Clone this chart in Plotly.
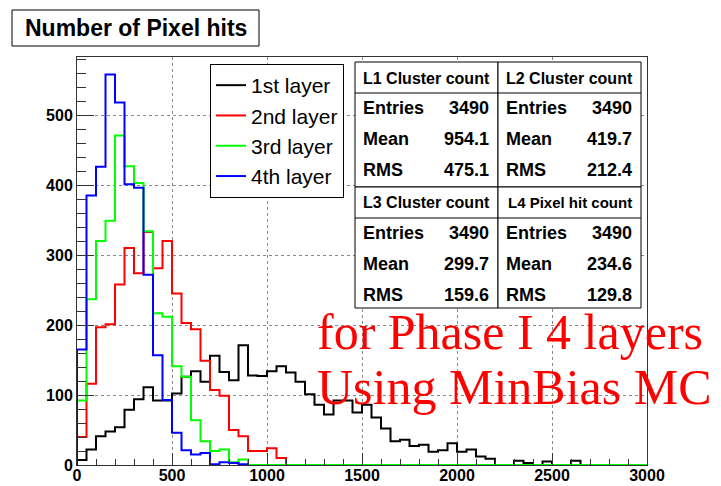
import plotly.graph_objs as go

# pixel hits per event, 50-wide bins from 0 to 3000
bin_width = 50
x_max = 3000

layer1 = [7, 22, 41, 48, 54, 79, 94, 111, 92, 92,
          102, 126, 134, 119, 156, 133, 121, 171, 128, 127,
          134, 141, 132, 119, 101, 86, 72, 92, 92, 75,
          86, 68, 52, 34, 36, 27, 29, 19, 21, 31,
          19, 22, 12, 9, 0, 0, 6, 3, 0, 5,
          0, 0, 6, 0, 0, 0, 0, 0, 0, 0]
layer2 = [40, 116, 197, 201, 258, 310, 274, 333, 281, 320,
          245, 203, 194, 149, 107, 99, 50, 41, 20, 20,
          24, 10] + [0] * 38
layer3 = [92, 237, 320, 349, 471, 427, 403, 334, 217, 212,
          141, 126, 64, 34, 20, 22, 4, 8] + [0] * 42
layer4 = [165, 385, 426, 558, 518, 401, 396, 272, 157, 93,
          46, 21, 15, 17, 1, 4, 3, 1]

layer_names = ['1st layer', '2nd layer', '3rd layer', '4th layer']
layer_colors = ['#000000', '#ff0000', '#00ff00', '#0000ff']

# stats boxes
box_titles = ['L1 Cluster count', 'L2 Cluster count', 'L3 Cluster count', 'L4 Pixel hit count']
entries = ['3490', '3490', '3490', '3490']
means = ['954.1', '419.7', '299.7', '234.6']
rms = ['475.1', '212.4', '159.6', '129.8']

# geometry: the page puts the figure 8px in from the window corner,
# so all target pixel positions are shifted back by OFF
W, H = 721, 486
OFF = 8
PW, PH = 570, 408           # plot area size
L, T = 77 - OFF, 57 - OFF   # plot area origin inside the figure
R, B = W - L - PW, H - T - PH


def px(x):
    return (x - OFF - L) / PW


def py(y):
    return (T + PH - (y - OFF)) / PH


def hist_trace(counts, name, color):
    edges = [i * bin_width for i in range(len(counts) + 1)]
    xs = [0] + edges
    ys = [0] + counts + [0 if len(counts) * bin_width < x_max else counts[-1]]
    return go.Scatter(x=xs, y=ys, mode='lines', name=name, legendgroup=name,
                      line=dict(color=color, width=2, shape='hv'))


data = [hist_trace(c, n, col) for c, n, col in
        zip([layer1, layer2, layer3, layer4], layer_names, layer_colors)]

fig = go.Figure(data=data)

sans = 'Liberation Sans'
shapes = []
annotations = []

# title box
shapes.append(dict(type='rect', xref='paper', yref='paper', x0=px(12), x1=px(259),
                   y0=py(46), y1=py(10), line=dict(color='black', width=1),
                   fillcolor='white'))
annotations.append(dict(text='<b>Number of Pixel hits</b>', xref='paper', yref='paper',
                        x=px(136), y=py(28), showarrow=False, xanchor='center',
                        yanchor='middle', font=dict(family=sans, size=23, color='black')))

# stats boxes, 2x2
box_x = [(355, 498), (498, 641), (355, 498), (498, 641)]
box_y = [(62, 187), (62, 187), (187, 308), (187, 308)]
for i in range(4):
    x0, x1 = box_x[i]
    y0, y1 = box_y[i]
    shapes.append(dict(type='rect', xref='paper', yref='paper', x0=px(x0), x1=px(x1),
                       y0=py(y1), y1=py(y0), line=dict(color='black', width=1),
                       fillcolor='white'))
    shapes.append(dict(type='line', xref='paper', yref='paper', x0=px(x0), x1=px(x1),
                       y0=py(y0 + 31), y1=py(y0 + 31), line=dict(color='black', width=1)))
    annotations.append(dict(text='<b>%s</b>' % box_titles[i], xref='paper', yref='paper',
                            x=px((x0 + x1) / 2), y=py(y0 + 16), showarrow=False,
                            xanchor='center', yanchor='middle',
                            font=dict(family=sans, size=16 if i < 3 else 15, color='black')))
    rows = [('Entries', entries[i]), ('Mean', means[i]), ('RMS', rms[i])]
    for j, (lab, val) in enumerate(rows):
        yy = y0 + 46 + j * 31
        annotations.append(dict(text='<b>%s</b>' % lab, xref='paper', yref='paper',
                                x=px(x0 + 6), y=py(yy), showarrow=False, xanchor='left',
                                yanchor='middle', font=dict(family=sans, size=18, color='black')))
        annotations.append(dict(text='<b>%s</b>' % val, xref='paper', yref='paper',
                                x=px(x1 - 7), y=py(yy), showarrow=False, xanchor='right',
                                yanchor='middle', font=dict(family=sans, size=18, color='black')))

# red labels
for txt, yy in [('for Phase I 4 layers', 332), ('Using MinBias MC', 387)]:
    annotations.append(dict(text=txt, xref='paper', yref='paper', x=px(315), y=py(yy),
                            showarrow=False, xanchor='left', yanchor='middle',
                            font=dict(family='Liberation Serif', size=50, color='red')))

axis_font = dict(family=sans, size=16, color='black', weight='bold')

fig.update_layout(
    width=W, height=H,
    margin=dict(l=L, r=R, t=T, b=B, pad=0),
    paper_bgcolor='white', plot_bgcolor='white',
    showlegend=True,
    legend=dict(x=px(210), y=py(64), xanchor='left', yanchor='top',
                bgcolor='white', bordercolor='black', borderwidth=1,
                font=dict(family=sans, size=21, color='black'),
                tracegroupgap=0, itemwidth=30),
    xaxis=dict(range=[0, x_max], dtick=500, tick0=0, showgrid=True, automargin=False,
               gridcolor='#888888', griddash='dot', gridwidth=1,
               zeroline=False, showline=True, mirror=True, linecolor='#333333',
               ticks='inside', ticklen=12, tickcolor='#333333', ticklabelstandoff=-4,
               minor=dict(dtick=100, ticks='inside', ticklen=6, tickcolor='#333333', showgrid=False),
               tickfont=axis_font),
    yaxis=dict(range=[0, 583], dtick=100, tick0=0, showgrid=True, automargin=False,
               gridcolor='#888888', griddash='dot', gridwidth=1,
               zeroline=False, showline=True, mirror=True, linecolor='#333333',
               ticks='inside', ticklen=17, tickcolor='#333333',
               minor=dict(dtick=20, ticks='inside', ticklen=9, tickcolor='#333333', showgrid=False),
               tickfont=axis_font),
    shapes=shapes,
    annotations=annotations,
)

fig.write_html("out.html")
